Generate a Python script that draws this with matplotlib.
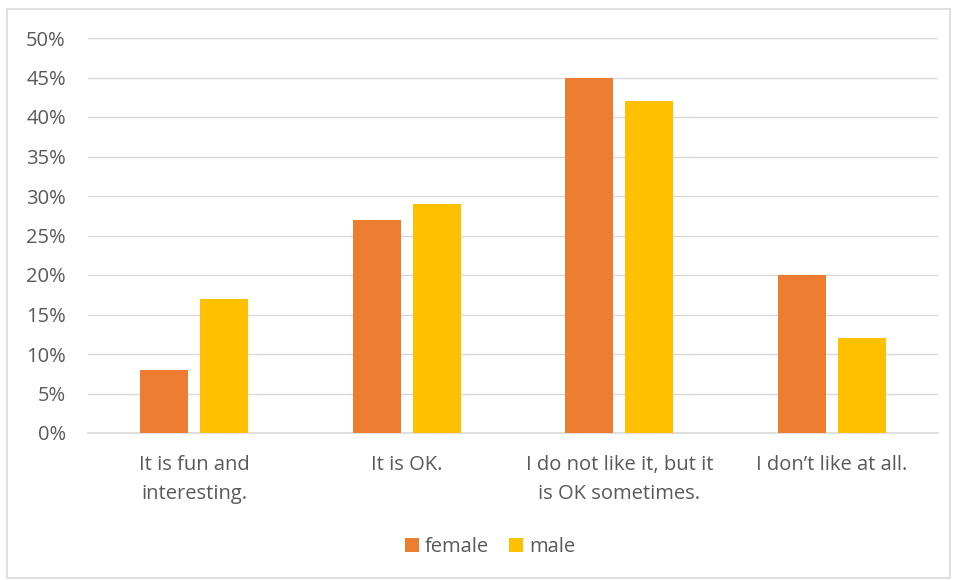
import numpy as np
import matplotlib
matplotlib.use('Agg')
from matplotlib import pyplot as plt
from matplotlib.patches import Rectangle

categories = ["It is fun and\ninteresting.", "It is OK.",
              "I do not like it, but it\nis OK sometimes.", "I don\u2019t like at all."]
female = [0.08, 0.27, 0.45, 0.20]
male = [0.17, 0.29, 0.42, 0.12]
yticks = [0, 0.05, 0.10, 0.15, 0.20, 0.25, 0.30, 0.35, 0.40, 0.45, 0.50]

plt.rcParams['font.family'] = ['Open Sans', 'DejaVu Sans']
txt = '#595959'
fs = 14.5

W, H = 955, 580
fig = plt.figure(figsize=(W / 100, H / 100), dpi=100)
# 外框
fig.patches.append(Rectangle((7 / W, 1 - 578 / H), 943 / W, 569 / H,
                             transform=fig.transFigure, fill=False,
                             edgecolor='#d9d9d9', linewidth=1.2))

ax = fig.add_axes([88 / W, 1 - 433 / H, 850 / W, 395 / H])
x = np.arange(len(categories))
w = 0.226
ax.bar(x - 0.141, female, w, color='#ed7d31', label='female', zorder=3)
ax.bar(x + 0.141, male, w, color='#ffc000', label='male', zorder=3)

ax.set_xlim(-0.5, len(categories) - 0.5)
ax.set_ylim(0, 0.5)
ax.set_yticks(yticks)
ax.set_yticklabels(['{:.0f}%'.format(v * 100) for v in yticks])
ax.set_xticks(x)
ax.set_xticklabels(categories, linespacing=1.65)
ax.tick_params(axis='y', length=0, pad=16, labelsize=fs, labelcolor=txt)
ax.tick_params(axis='x', length=0, pad=15.5, labelsize=fs, labelcolor=txt)
ax.grid(axis='y', color='#d9d9d9', linewidth=1, zorder=0)
for s in ['top', 'right', 'left']:
    ax.spines[s].set_visible(False)
ax.spines['bottom'].set_color('#d9d9d9')
ax.spines['bottom'].set_linewidth(1.2)

fig.legend(loc='center', bbox_to_anchor=(490 / W, 1 - 547 / H), ncol=2,
           frameon=False, fontsize=fs, labelcolor=txt, handlelength=0.7,
           handleheight=0.7, handletextpad=0.3, columnspacing=1.0)

plt.savefig('out.png', dpi=100)
plt.close()
